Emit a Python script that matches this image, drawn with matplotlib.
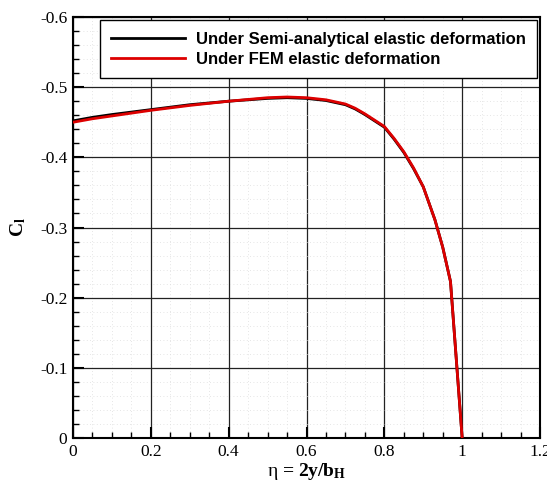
import numpy as np
import matplotlib
matplotlib.use('Agg')
import matplotlib.pyplot as plt
from matplotlib.ticker import MultipleLocator

plt.rcParams['axes.unicode_minus'] = False
plt.rcParams['mathtext.fontset'] = 'custom'
plt.rcParams['mathtext.rm'] = 'Liberation Serif'
plt.rcParams['mathtext.it'] = 'Liberation Serif:italic'
plt.rcParams['mathtext.bf'] = 'Liberation Serif:bold'

# spanwise position
eta = [0.0, 0.05, 0.1, 0.2, 0.3, 0.4, 0.5, 0.55, 0.6, 0.65, 0.7, 0.725,
       0.75, 0.775, 0.8, 0.825, 0.85, 0.875, 0.9, 0.93, 0.95, 0.97, 1.0]

# lift coefficient distributions
cl_semi = [-0.452, -0.457, -0.461, -0.468, -0.475, -0.480, -0.484, -0.485,
           -0.484, -0.481, -0.475, -0.469, -0.461, -0.452, -0.443, -0.426,
           -0.407, -0.384, -0.358, -0.311, -0.272, -0.223, 0.0]
cl_fem = [-0.450, -0.455, -0.459, -0.467, -0.474, -0.480, -0.485, -0.486,
          -0.485, -0.482, -0.476, -0.470, -0.462, -0.453, -0.444, -0.427,
          -0.408, -0.385, -0.358, -0.311, -0.272, -0.223, 0.0]

labels = ['Under Semi-analytical elastic deformation',
          'Under FEM elastic deformation']

fig = plt.figure(figsize=(5.47, 4.82), dpi=100)
ax = fig.add_axes([0.1335, 0.0913, 0.8537, 0.8734])

ax.plot(eta, cl_semi, color='black', lw=2, label=labels[0], zorder=3)
ax.plot(eta, cl_fem, color='#dd0000', lw=2, label=labels[1], zorder=4)

ax.set_xlim(0, 1.2)
ax.set_ylim(0, -0.6)
ax.xaxis.set_minor_locator(MultipleLocator(0.05))
ax.yaxis.set_minor_locator(MultipleLocator(0.02))
ax.set_xticks([0, 0.2, 0.4, 0.6, 0.8, 1.0, 1.2])
ax.set_xticklabels(['0', '0.2', '0.4', '0.6', '0.8', '1', '1.2'])
ax.set_yticks([0, -0.1, -0.2, -0.3, -0.4, -0.5, -0.6])
ax.set_yticklabels(['0', '-0.1', '-0.2', '-0.3', '-0.4', '-0.5', '-0.6'])

ax.grid(which='major', color='#222222', lw=0.9)
ax.grid(which='minor', color='#dddddd', lw=0.6, linestyle=(0, (1, 3)))
ax.set_axisbelow(True)

ax.tick_params(which='major', direction='in', length=8, width=1.5, pad=4)
ax.tick_params(which='minor', direction='in', length=4, width=1)
for lab in ax.get_xticklabels() + ax.get_yticklabels():
    lab.set_fontfamily('Liberation Serif')
    lab.set_fontsize(12.5)
for sp in ax.spines.values():
    sp.set_linewidth(1.5)

ax.set_xlabel(r'$\mathrm{\eta}$ = 2y/b$_\mathbf{H}$', fontfamily='Liberation Serif',
              fontweight='bold', fontsize=14, labelpad=1)
ax.set_ylabel(r'C$_\mathbf{l}$', fontfamily='Liberation Serif',
              fontweight='bold', fontsize=14, labelpad=9)

leg = ax.legend(loc='upper right', bbox_to_anchor=(0.994, 0.993),
                borderaxespad=0, fancybox=False, framealpha=1,
                edgecolor='black', handlelength=4.4, handletextpad=0.65,
                borderpad=0.7, labelspacing=0.3,
                prop={'family': 'Liberation Sans', 'weight': 'bold', 'size': 12})
leg.get_frame().set_linewidth(1)

fig.savefig('out.png', dpi=100)
